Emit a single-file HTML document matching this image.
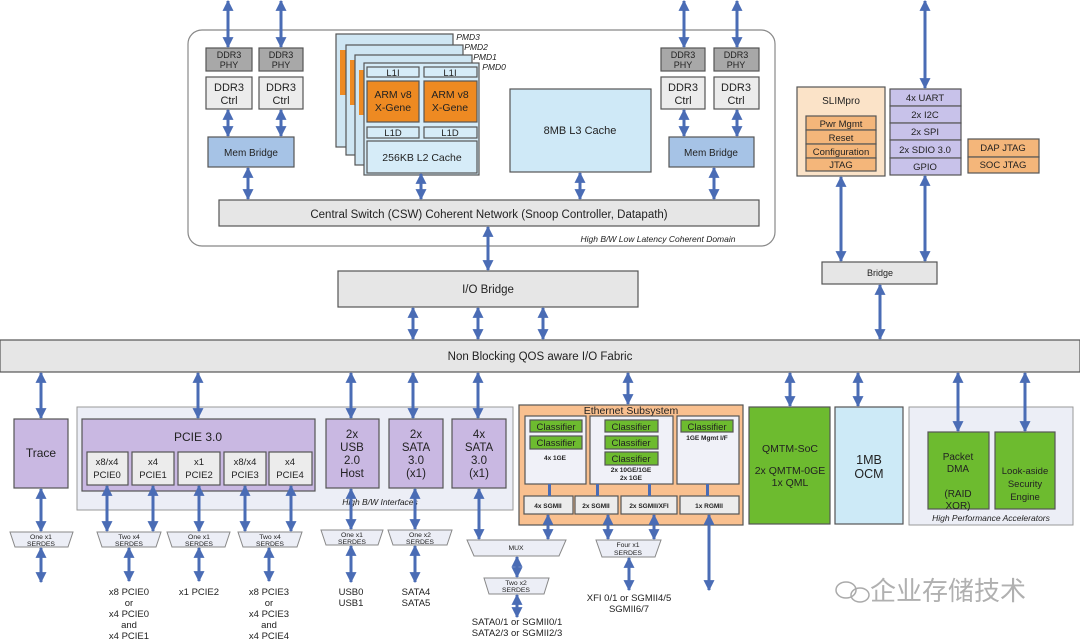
<!DOCTYPE html>
<html><head><meta charset="utf-8"><style>
html,body{margin:0;padding:0;background:#fff;}
svg{display:block;font-family:"Liberation Sans",Arial,sans-serif;}
.b{stroke:#555;stroke-width:1.2;}
.a{stroke:#4a6cb5;stroke-width:3;fill:none;marker-start:url(#h);marker-end:url(#h);}
text{fill:#222;text-anchor:middle;}
.it{font-style:italic;}
</style></head><body>
<svg width="1080" height="640" viewBox="0 0 1080 640">
<defs>
<marker id="h" viewBox="0 0 10 10" refX="9" refY="5" markerWidth="11" markerHeight="11" markerUnits="userSpaceOnUse" orient="auto-start-reverse"><path d="M0,0L10,5L0,10z" fill="#4a6cb5"/></marker>
</defs>

<rect x="188" y="30" width="587" height="216" rx="14" fill="#fff" stroke="#888" stroke-width="1.2"/>
<text x="658" y="242" font-size="8.5" class="it">High B/W Low Latency Coherent Domain</text>

<g font-size="10">
<rect class="b" x="206" y="48" width="46" height="23" fill="#a8a8a8"/><text x="229" y="58" font-size="9">DDR3</text><text x="229" y="68" font-size="9">PHY</text>
<rect class="b" x="206" y="77" width="46" height="32" fill="#ececec"/><text x="229" y="91" font-size="11">DDR3</text><text x="229" y="104" font-size="11">Ctrl</text>
<rect class="b" x="259" y="48" width="44" height="23" fill="#a8a8a8"/><text x="281" y="58" font-size="9">DDR3</text><text x="281" y="68" font-size="9">PHY</text>
<rect class="b" x="259" y="77" width="44" height="32" fill="#ececec"/><text x="281" y="91" font-size="11">DDR3</text><text x="281" y="104" font-size="11">Ctrl</text>
<rect class="b" x="208" y="137" width="86" height="30" fill="#a6c3e6"/><text x="251" y="156">Mem Bridge</text>
<rect class="b" x="661" y="48" width="44" height="23" fill="#a8a8a8"/><text x="683" y="58" font-size="9">DDR3</text><text x="683" y="68" font-size="9">PHY</text>
<rect class="b" x="661" y="77" width="44" height="32" fill="#ececec"/><text x="683" y="91" font-size="11">DDR3</text><text x="683" y="104" font-size="11">Ctrl</text>
<rect class="b" x="714" y="48" width="45" height="23" fill="#a8a8a8"/><text x="736" y="58" font-size="9">DDR3</text><text x="736" y="68" font-size="9">PHY</text>
<rect class="b" x="714" y="77" width="45" height="32" fill="#ececec"/><text x="736" y="91" font-size="11">DDR3</text><text x="736" y="104" font-size="11">Ctrl</text>
<rect class="b" x="669" y="137" width="85" height="30" fill="#a6c3e6"/><text x="711" y="156">Mem Bridge</text>
</g>

<g>
<rect class="b" x="336" y="34" width="117" height="113" fill="#cfe6f3"/>
<rect x="340" y="50" width="6" height="45" fill="#ee8a22"/>
<rect class="b" x="346" y="45" width="117" height="110" fill="#cfe6f3"/>
<rect x="350" y="60" width="5" height="45" fill="#ee8a22"/>
<rect class="b" x="355" y="55" width="117" height="110" fill="#cfe6f3"/>
<rect x="359" y="70" width="5" height="45" fill="#ee8a22"/>
<rect class="b" x="364" y="63" width="115" height="112" fill="#d6ecf8"/>
<rect class="b" x="367" y="67" width="52" height="10" fill="#d6ecf8"/><text x="393" y="76" font-size="9.5">L1I</text>
<rect class="b" x="424" y="67" width="53" height="10" fill="#d6ecf8"/><text x="450" y="76" font-size="9.5">L1I</text>
<rect class="b" x="367" y="81" width="52" height="41" fill="#ee8a22"/><text x="393" y="98" font-size="10.5">ARM v8</text><text x="393" y="111" font-size="10.5">X-Gene</text>
<rect class="b" x="424" y="81" width="53" height="41" fill="#ee8a22"/><text x="450" y="98" font-size="10.5">ARM v8</text><text x="450" y="111" font-size="10.5">X-Gene</text>
<rect class="b" x="367" y="127" width="52" height="11" fill="#d6ecf8"/><text x="393" y="136" font-size="9.5">L1D</text>
<rect class="b" x="424" y="127" width="53" height="11" fill="#d6ecf8"/><text x="450" y="136" font-size="9.5">L1D</text>
<rect class="b" x="367" y="141" width="110" height="32" fill="#d6ecf8"/><text x="422" y="161" font-size="10.5">256KB L2 Cache</text>
<g font-size="8.5" class="it"><text x="468" y="40">PMD3</text><text x="476" y="50">PMD2</text><text x="485" y="60">PMD1</text><text x="494" y="70">PMD0</text></g>
</g>
<rect class="b" x="510" y="89" width="141" height="83" fill="#cfe9f7"/><text x="580" y="134" font-size="11">8MB L3 Cache</text>

<rect class="b" x="219" y="200" width="540" height="26" fill="#e6e6e6"/>
<text x="489" y="218" font-size="11.5">Central Switch (CSW) Coherent Network (Snoop Controller, Datapath)</text>

<rect class="b" x="338" y="271" width="300" height="36" fill="#e6e6e6"/><text x="488" y="293" font-size="11.5">I/O Bridge</text>
<rect class="b" x="0" y="340" width="1080" height="32" fill="#e6e6e6"/><text x="540" y="360" font-size="11.5">Non Blocking QOS aware I/O Fabric</text>

<rect class="b" x="797" y="87" width="88" height="89" fill="#fbe3c8"/><text x="841" y="104" font-size="10">SLIMpro</text>
<g font-size="9.5">
<rect class="b" x="806" y="116" width="70" height="14" fill="#f4b67a"/><text x="841" y="127">Pwr Mgmt</text>
<rect class="b" x="806" y="130" width="70" height="14" fill="#f4b67a"/><text x="841" y="141">Reset</text>
<rect class="b" x="806" y="144" width="70" height="14" fill="#f4b67a"/><text x="841" y="155">Configuration</text>
<rect class="b" x="806" y="158" width="70" height="13" fill="#f4b67a"/><text x="841" y="168">JTAG</text>
<rect class="b" x="890" y="89" width="71" height="17" fill="#c8c2ea"/><text x="925" y="101">4x UART</text>
<rect class="b" x="890" y="106" width="71" height="17" fill="#c8c2ea"/><text x="925" y="118">2x I2C</text>
<rect class="b" x="890" y="123" width="71" height="17" fill="#c8c2ea"/><text x="925" y="135">2x SPI</text>
<rect class="b" x="890" y="140" width="71" height="18" fill="#c8c2ea"/><text x="925" y="153">2x SDIO 3.0</text>
<rect class="b" x="890" y="158" width="71" height="17" fill="#c8c2ea"/><text x="925" y="170">GPIO</text>
<rect class="b" x="968" y="139" width="71" height="18" fill="#f4b67a"/><text x="1003" y="151">DAP JTAG</text>
<rect class="b" x="968" y="157" width="71" height="16" fill="#f4b67a"/><text x="1003" y="168">SOC JTAG</text>
</g>
<rect class="b" x="822" y="262" width="115" height="22" fill="#e6e6e6"/><text x="880" y="276" font-size="9">Bridge</text>

<rect x="77" y="407" width="436" height="103" fill="#eceef6" stroke="#999"/>
<text x="380" y="505" font-size="8.5" class="it">High B/W Interfaces</text>
<rect x="909" y="407" width="164" height="118" fill="#eceef6" stroke="#999"/>
<text x="991" y="521" font-size="8.5" class="it">High Performance Accelerators</text>

<rect class="b" x="14" y="419" width="54" height="69" fill="#c9b8e2"/><text x="41" y="457" font-size="12">Trace</text>
<rect class="b" x="82" y="419" width="233" height="72" fill="#c9b8e2"/><text x="198" y="441" font-size="12">PCIE 3.0</text>
<g font-size="9.5">
<rect class="b" x="87" y="452" width="41" height="33" fill="#ececec"/><text x="107" y="465">x8/x4</text><text x="107" y="478">PCIE0</text>
<rect class="b" x="132" y="452" width="42" height="33" fill="#ececec"/><text x="153" y="465">x4</text><text x="153" y="478">PCIE1</text>
<rect class="b" x="178" y="452" width="42" height="33" fill="#ececec"/><text x="199" y="465">x1</text><text x="199" y="478">PCIE2</text>
<rect class="b" x="224" y="452" width="42" height="33" fill="#ececec"/><text x="245" y="465">x8/x4</text><text x="245" y="478">PCIE3</text>
<rect class="b" x="269" y="452" width="43" height="33" fill="#ececec"/><text x="290" y="465">x4</text><text x="290" y="478">PCIE4</text>
</g>
<g font-size="11.5">
<rect class="b" x="326" y="419" width="53" height="69" fill="#c9b8e2"/><text x="352" y="438">2x</text><text x="352" y="451">USB</text><text x="352" y="464">2.0</text><text x="352" y="477">Host</text>
<rect class="b" x="389" y="419" width="54" height="69" fill="#c9b8e2"/><text x="416" y="438">2x</text><text x="416" y="451">SATA</text><text x="416" y="464">3.0</text><text x="416" y="477">(x1)</text>
<rect class="b" x="452" y="419" width="54" height="69" fill="#c9b8e2"/><text x="479" y="438">4x</text><text x="479" y="451">SATA</text><text x="479" y="464">3.0</text><text x="479" y="477">(x1)</text>
</g>

<rect class="b" x="519" y="405" width="224" height="120" fill="#f9c08f"/>
<text x="631" y="414" font-size="10.5">Ethernet Subsystem</text>
<rect class="b" x="525" y="416" width="61" height="68" fill="#f0f1f8"/>
<rect class="b" x="590" y="416" width="83" height="68" fill="#f0f1f8"/>
<rect class="b" x="677" y="416" width="62" height="68" fill="#f0f1f8"/>
<g font-size="9.5">
<rect class="b" x="530" y="420" width="52" height="12" fill="#6dbb2f"/><text x="556" y="430">Classifier</text>
<rect class="b" x="530" y="436" width="52" height="13" fill="#6dbb2f"/><text x="556" y="446">Classifier</text>
<rect class="b" x="605" y="420" width="53" height="12" fill="#6dbb2f"/><text x="631" y="430">Classifier</text>
<rect class="b" x="605" y="436" width="53" height="13" fill="#6dbb2f"/><text x="631" y="446">Classifier</text>
<rect class="b" x="605" y="452" width="53" height="13" fill="#6dbb2f"/><text x="631" y="462">Classifier</text>
<rect class="b" x="681" y="420" width="52" height="12" fill="#6dbb2f"/><text x="707" y="430">Classifier</text>
</g>
<g font-size="6.5" font-weight="bold">
<text x="555" y="460">4x 1GE</text><text x="631" y="472">2x 10GE/1GE</text><text x="631" y="480">2x 1GE</text><text x="707" y="440">1GE Mgmt I/F</text>
<rect class="b" x="524" y="496" width="49" height="18" fill="#ececec"/><text x="548" y="508">4x SGMII</text>
<rect class="b" x="575" y="496" width="43" height="18" fill="#ececec"/><text x="596" y="508">2x SGMII</text>
<rect class="b" x="621" y="496" width="56" height="18" fill="#ececec"/><text x="649" y="508">2x SGMII/XFI</text>
<rect class="b" x="680" y="496" width="59" height="18" fill="#ececec"/><text x="709" y="508">1x RGMII</text>
</g>
<g fill="#4a6cb5"><rect x="548" y="484" width="3" height="12"/><rect x="596" y="484" width="3" height="12"/><rect x="648" y="484" width="3" height="12"/><rect x="706" y="484" width="3" height="12"/></g>

<rect class="b" x="749" y="407" width="81" height="117" fill="#6dbb2f"/>
<g font-size="10.5"><text x="790" y="452">QMTM-SoC</text><text x="790" y="474">2x QMTM-0GE</text><text x="790" y="486">1x QML</text></g>
<rect class="b" x="835" y="407" width="68" height="117" fill="#cdeaf7"/>
<text x="869" y="464" font-size="12.5">1MB</text><text x="869" y="478" font-size="12.5">OCM</text>
<rect class="b" x="928" y="432" width="61" height="77" fill="#6dbb2f"/>
<g font-size="10"><text x="958" y="460">Packet</text><text x="958" y="472">DMA</text><text x="958" y="497">(RAID</text><text x="958" y="509">XOR)</text></g>
<rect class="b" x="995" y="432" width="60" height="77" fill="#6dbb2f"/>
<g font-size="9.5"><text x="1025" y="474">Look-aside</text><text x="1025" y="487">Security</text><text x="1025" y="500">Engine</text></g>

<g fill="#eceef6" stroke="#888" stroke-width="1">
<path d="M10,532H73L68,547H15z"/><path d="M97,532H161L156,547H102z"/><path d="M167,532H230L225,547H172z"/>
<path d="M238,532H302L297,547H243z"/><path d="M321,530H383L378,545H326z"/><path d="M388,530H452L447,545H393z"/>
<path d="M467,540H566L559,556H474z"/><path d="M484,578H549L544,594H489z"/><path d="M596,540H661L655,557H602z"/>
</g>
<g font-size="6.8" fill="#333">
<text x="41" y="539">One x1</text><text x="41" y="546">SERDES</text>
<text x="129" y="539">Two x4</text><text x="129" y="546">SERDES</text>
<text x="199" y="539">One x1</text><text x="199" y="546">SERDES</text>
<text x="270" y="539">Two x4</text><text x="270" y="546">SERDES</text>
<text x="352" y="537">One x1</text><text x="352" y="544">SERDES</text>
<text x="420" y="537">One x2</text><text x="420" y="544">SERDES</text>
<text x="516" y="550">MUX</text>
<text x="516" y="585">Two x2</text><text x="516" y="592">SERDES</text>
<text x="628" y="547">Four x1</text><text x="628" y="555">SERDES</text>
</g>

<g font-size="9.5">
<text x="129" y="595">x8 PCIE0</text><text x="129" y="606">or</text><text x="129" y="617">x4 PCIE0</text><text x="129" y="628">and</text><text x="129" y="639">x4 PCIE1</text>
<text x="199" y="595">x1 PCIE2</text>
<text x="269" y="595">x8 PCIE3</text><text x="269" y="606">or</text><text x="269" y="617">x4 PCIE3</text><text x="269" y="628">and</text><text x="269" y="639">x4 PCIE4</text>
<text x="351" y="595">USB0</text><text x="351" y="606">USB1</text>
<text x="416" y="595">SATA4</text><text x="416" y="606">SATA5</text>
<text x="629" y="601">XFI 0/1 or SGMII4/5</text><text x="629" y="612">SGMII6/7</text>
<text x="517" y="625">SATA0/1 or SGMII0/1</text><text x="517" y="636">SATA2/3 or SGMII2/3</text>
</g>

<g fill="none" stroke="#aaa" stroke-width="1.5"><ellipse cx="846" cy="590" rx="10" ry="8"/><ellipse cx="860" cy="595" rx="9" ry="7"/></g>
<text x="948" y="600" font-size="26" style="font-family:'Liberation Sans','Noto Sans CJK SC',sans-serif;fill:#b0b0b0">企业存储技术</text>

<g>
<line class="a" x1="228" y1="1" x2="228" y2="47"/><line class="a" x1="281" y1="1" x2="281" y2="47"/>
<line class="a" x1="684" y1="1" x2="684" y2="47"/><line class="a" x1="737" y1="1" x2="737" y2="47"/>
<line class="a" x1="228" y1="110" x2="228" y2="136"/><line class="a" x1="281" y1="110" x2="281" y2="136"/>
<line class="a" x1="684" y1="110" x2="684" y2="136"/><line class="a" x1="737" y1="110" x2="737" y2="136"/>
<line class="a" x1="248" y1="168" x2="248" y2="199"/><line class="a" x1="714" y1="168" x2="714" y2="199"/>
<line class="a" x1="421" y1="174" x2="421" y2="199"/><line class="a" x1="580" y1="173" x2="580" y2="199"/>
<line class="a" x1="488" y1="227" x2="488" y2="270"/>
<line class="a" x1="413" y1="308" x2="413" y2="339"/><line class="a" x1="478" y1="308" x2="478" y2="339"/><line class="a" x1="543" y1="308" x2="543" y2="339"/>
<line class="a" x1="925" y1="1" x2="925" y2="88"/>
<line class="a" x1="841" y1="177" x2="841" y2="261"/><line class="a" x1="925" y1="176" x2="925" y2="261"/>
<line class="a" x1="880" y1="285" x2="880" y2="339"/>
<line class="a" x1="41" y1="373" x2="41" y2="418"/><line class="a" x1="198" y1="373" x2="198" y2="418"/>
<line class="a" x1="351" y1="373" x2="351" y2="418"/><line class="a" x1="413" y1="373" x2="413" y2="418"/>
<line class="a" x1="478" y1="373" x2="478" y2="418"/><line class="a" x1="628" y1="373" x2="628" y2="404"/>
<line class="a" x1="790" y1="373" x2="790" y2="406"/><line class="a" x1="858" y1="373" x2="858" y2="406"/>
<line class="a" x1="958" y1="373" x2="958" y2="431"/><line class="a" x1="1025" y1="373" x2="1025" y2="431"/>
<line class="a" x1="41" y1="489" x2="41" y2="531"/><line class="a" x1="41" y1="548" x2="41" y2="582"/>
<line class="a" x1="107" y1="486" x2="107" y2="531"/><line class="a" x1="153" y1="486" x2="153" y2="531"/>
<line class="a" x1="199" y1="486" x2="199" y2="531"/><line class="a" x1="245" y1="486" x2="245" y2="531"/>
<line class="a" x1="291" y1="486" x2="291" y2="531"/>
<line class="a" x1="129" y1="548" x2="129" y2="581"/><line class="a" x1="199" y1="548" x2="199" y2="581"/><line class="a" x1="269" y1="548" x2="269" y2="581"/>
<line class="a" x1="351" y1="489" x2="351" y2="529"/><line class="a" x1="351" y1="546" x2="351" y2="582"/>
<line class="a" x1="415" y1="489" x2="415" y2="529"/><line class="a" x1="415" y1="546" x2="415" y2="582"/>
<line class="a" x1="479" y1="489" x2="479" y2="539"/>
<line class="a" x1="548" y1="515" x2="548" y2="539"/><line class="a" x1="608" y1="515" x2="608" y2="539"/><line class="a" x1="654" y1="515" x2="654" y2="539"/>
<line class="a" x1="517" y1="557" x2="517" y2="577"/><line class="a" x1="517" y1="595" x2="517" y2="617"/>
<line class="a" x1="629" y1="558" x2="629" y2="590"/><line class="a" x1="709" y1="515" x2="709" y2="590"/>
</g>
</svg>
</body></html>
